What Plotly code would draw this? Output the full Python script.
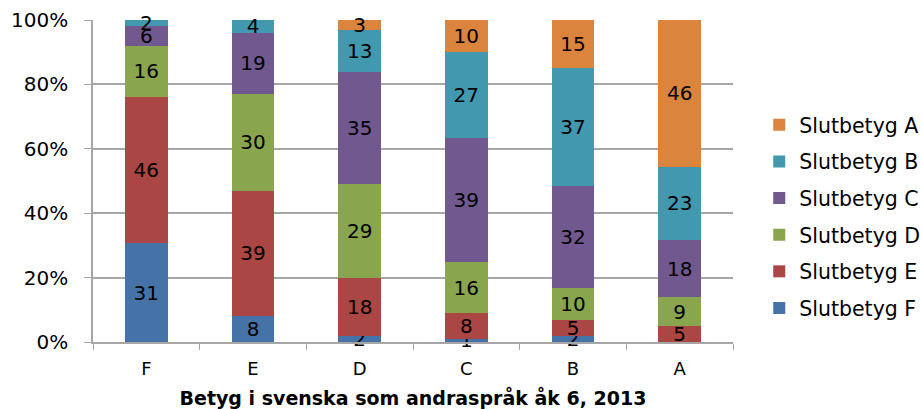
import plotly.graph_objects as go

categories = ["F", "E", "D", "C", "B", "A"]
series_names = ["Slutbetyg F", "Slutbetyg E", "Slutbetyg D", "Slutbetyg C", "Slutbetyg B", "Slutbetyg A"]
slut_F = [31, 8, 2, 1, 2, 0]
slut_E = [46, 39, 18, 8, 5, 5]
slut_D = [16, 30, 29, 16, 10, 9]
slut_C = [6, 19, 35, 39, 32, 18]
slut_B = [2, 4, 13, 27, 37, 23]
slut_A = [0, 0, 3, 10, 15, 46]
colors = ["#4572A7", "#AA4643", "#89A54E", "#71588F", "#4198AF", "#DB843D"]
y_ticks = [0, 20, 40, 60, 80, 100]
y_tick_labels = ["0%", "20%", "40%", "60%", "80%", "100%"]
x_title = "Betyg i svenska som andraspråk åk 6, 2013"

font = "DejaVu Sans, sans-serif"
fig = go.Figure()
for i, (name, vals) in enumerate(zip(series_names, [slut_F, slut_E, slut_D, slut_C, slut_B, slut_A])):
    fig.add_trace(go.Bar(
        x=categories, y=vals, name=name,
        marker=dict(color=colors[i], line=dict(width=0)),
        text=[str(v) if v > 0 else "" for v in vals],
        textposition="inside", insidetextanchor="middle",
        constraintext="none", textangle=0, cliponaxis=False,
        textfont=dict(color="black", size=20, family=font),
        legendgroup=name, legendrank=len(series_names) - i,
        hoverinfo="skip",
    ))

fig.update_layout(
    barmode="stack", barnorm="percent", bargap=0.6,
    width=922, height=409,
    margin=dict(l=93, r=189, t=20, b=67, autoexpand=False),
    plot_bgcolor="white", paper_bgcolor="white",
    font=dict(family=font, size=17, color="black"),
    legend=dict(tracegroupgap=7, bgcolor="rgba(0,0,0,0)",
                x=1.041, xanchor="left", y=0.39, yanchor="middle",
                font=dict(size=20.5), itemwidth=30),
)
fig.update_yaxes(range=[0, 100], tickvals=y_ticks, ticktext=y_tick_labels,
                 showgrid=True, gridcolor="#A6A6A6", gridwidth=1.5,
                 showline=True, linecolor="#A6A6A6", linewidth=1.5,
                 ticks="outside", ticklen=7, tickcolor="#A6A6A6",
                 ticklabelstandoff=12, automargin=False,
                 tickfont=dict(size=20), zeroline=False)
fig.update_xaxes(showline=True, linecolor="#A6A6A6", linewidth=1.5,
                 ticks="outside", ticklen=6, tickcolor="#A6A6A6", tickson="boundaries",
                 tickfont=dict(size=18), ticklabelstandoff=10, automargin=False,
                 title=dict(text="<b>" + x_title + "</b>", font=dict(size=19), standoff=14))
fig.write_html("out.html", config={"displayModeBar": False},
               post_script="document.body.style.margin='0';")
